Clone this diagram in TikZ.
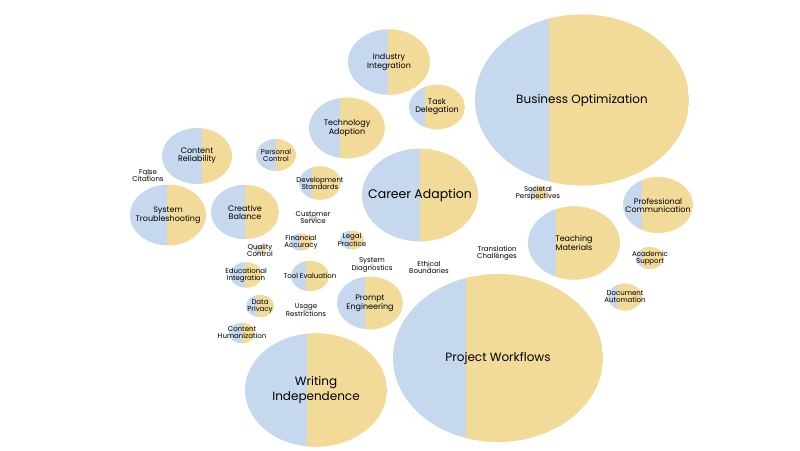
\documentclass[tikz,border=0pt]{standalone}
\usepackage{fontspec}
\setmainfont{Poppins}
\definecolor{bl}{HTML}{C5D8EE}
\definecolor{yl}{HTML}{F2DA98}
\newcommand\bub[7]{%
\begin{scope}\clip (#1,#2) ellipse [x radius=#3pt, y radius=0.8*#3pt];
\fill[bl] (#1-#3,#2-#3) rectangle (#4,#2+#3);
\fill[yl] (#4,#2-#3) rectangle (#1+#3,#2+#3);\end{scope}
\node[lbl,font=\fontsize{#6}{#6}\selectfont] (#7) at (#1,#2) {#5};}
\begin{document}
\begin{tikzpicture}[x=1pt,y=-1pt,lbl/.style={align=center,inner sep=0pt,text=black}]
\useasboundingbox (0,0) rectangle (800,450);
\bub{582}{100}{107}{549}{Business Optimization}{12}{bo}
\bub{498}{358}{105}{466}{Project Workflows}{12}{pw}
\bub{420}{195}{58}{420}{Career Adaption}{12.5}{ca}
\bub{316}{390}{71}{307}{Writing\\[2pt]Independence}{12}{wi}
\bub{389}{62}{41}{388}{Industry\\Integration}{8}{ii}
\bub{437}{107}{28}{425}{Task\\Delegation}{8}{td}
\bub{347}{128}{38}{340}{Technology\\Adoption}{8}{ta}
\bub{197}{156}{35}{202}{Content\\Reliability}{8}{cr}
\bub{276}{155}{20}{276}{Personal\\Control}{7}{pc}
\bub{320}{183}{21}{312}{Development\\Standards}{7}{ds}
\bub{168}{215}{38}{167}{System\\Troubleshooting}{8}{st}
\bub{245}{212}{34}{245}{Creative\\Balance}{8}{cb}
\bub{574}{243}{46}{556}{Teaching\\Materials}{8}{tm}
\bub{658}{205}{35}{642}{Professional\\Communication}{8}{prc}
\bub{650}{258}{14}{642}{Academic\\Support}{7}{as}
\bub{625}{297}{17}{617}{Document\\Automation}{7}{da}
\bub{370}{303}{33}{365}{Prompt\\Engineering}{8}{pe}
\bub{246}{275}{16}{245}{Educational\\Integration}{7}{ei}
\bub{310}{276}{19}{306}{Tool Evaluation}{7}{te}
\bub{260}{306}{14}{257}{Data\\Privacy}{7}{dp}
\bub{242}{333}{13}{242}{Content\\Humanization}{7}{chu}
\bub{301}{242}{11}{300}{Financial\\Accuracy}{7}{fa}
\bub{352}{240}{12}{350}{Legal\\Practice}{7}{lp}
\bub{260}{250}{6}{260}{Quality\\Control}{7}{qc}
\bub{313}{218}{4}{313}{Customer\\Service}{7}{cs}
\bub{148}{175}{3}{148}{False\\Citations}{7}{fc}
\bub{306}{310}{3}{306}{Usage\\Restrictions}{7}{ur}
\bub{372}{265}{2}{372}{System\\Diagnostics}{7}{sd}
\bub{429}{267}{2}{429}{Ethical\\Boundaries}{7}{eb}
\bub{497}{253}{2}{497}{Translation\\Challenges}{7}{tc}
\bub{538}{193}{9}{535}{Societal\\Perspectives}{7}{sp}
\end{tikzpicture}
\end{document}
